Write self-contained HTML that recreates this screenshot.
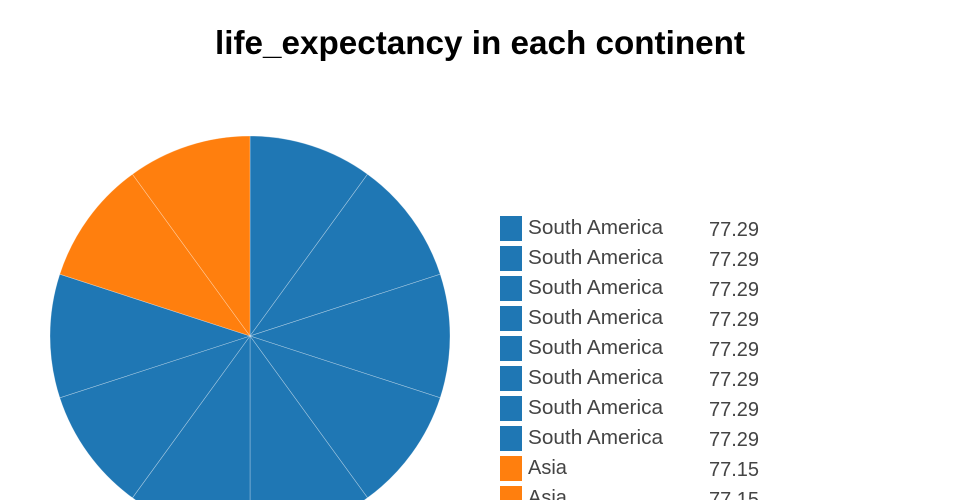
<!DOCTYPE html>
<html><head><meta charset="utf-8"><style>
html,body{margin:0;padding:0;background:#fff;width:960px;height:500px;overflow:hidden;}
svg{display:block;}
</style></head><body>
<svg width="960" height="500" viewBox="0 0 960 500" xmlns="http://www.w3.org/2000/svg" style="overflow:hidden">
<defs><clipPath id="c"><rect width="960" height="500"/></clipPath></defs>
<g clip-path="url(#c)">
<rect width="960" height="500" fill="#fff"/>
<text x="215" y="54" textLength="530" lengthAdjust="spacingAndGlyphs" font-family="Liberation Sans, sans-serif" font-weight="bold" font-size="33" fill="#000">life_expectancy in each continent</text>
<g stroke="#ffffff" stroke-opacity="0.45" stroke-width="0.6">
<path d="M250,336 L250.000,136.000 A200,200 0 0 1 367.557,174.197 Z" fill="#1f77b4"/>
<path d="M250,336 L367.557,174.197 A200,200 0 0 1 440.211,274.197 Z" fill="#1f77b4"/>
<path d="M250,336 L440.211,274.197 A200,200 0 0 1 440.211,397.803 Z" fill="#1f77b4"/>
<path d="M250,336 L440.211,397.803 A200,200 0 0 1 367.557,497.803 Z" fill="#1f77b4"/>
<path d="M250,336 L367.557,497.803 A200,200 0 0 1 250.000,536.000 Z" fill="#1f77b4"/>
<path d="M250,336 L250.000,536.000 A200,200 0 0 1 132.443,497.803 Z" fill="#1f77b4"/>
<path d="M250,336 L132.443,497.803 A200,200 0 0 1 59.789,397.803 Z" fill="#1f77b4"/>
<path d="M250,336 L59.789,397.803 A200,200 0 0 1 59.789,274.197 Z" fill="#1f77b4"/>
<path d="M250,336 L59.789,274.197 A200,200 0 0 1 132.443,174.197 Z" fill="#ff7f0e"/>
<path d="M250,336 L132.443,174.197 A200,200 0 0 1 250.000,136.000 Z" fill="#ff7f0e"/>
</g>
<g font-family="Liberation Sans, sans-serif" font-size="20" fill="#444">
<rect x="500" y="216" width="22" height="25" fill="#1f77b4"/><text x="528" y="234" textLength="135" lengthAdjust="spacingAndGlyphs">South America</text><text x="709" y="236">77.29</text>
<rect x="500" y="246" width="22" height="25" fill="#1f77b4"/><text x="528" y="264" textLength="135" lengthAdjust="spacingAndGlyphs">South America</text><text x="709" y="266">77.29</text>
<rect x="500" y="276" width="22" height="25" fill="#1f77b4"/><text x="528" y="294" textLength="135" lengthAdjust="spacingAndGlyphs">South America</text><text x="709" y="296">77.29</text>
<rect x="500" y="306" width="22" height="25" fill="#1f77b4"/><text x="528" y="324" textLength="135" lengthAdjust="spacingAndGlyphs">South America</text><text x="709" y="326">77.29</text>
<rect x="500" y="336" width="22" height="25" fill="#1f77b4"/><text x="528" y="354" textLength="135" lengthAdjust="spacingAndGlyphs">South America</text><text x="709" y="356">77.29</text>
<rect x="500" y="366" width="22" height="25" fill="#1f77b4"/><text x="528" y="384" textLength="135" lengthAdjust="spacingAndGlyphs">South America</text><text x="709" y="386">77.29</text>
<rect x="500" y="396" width="22" height="25" fill="#1f77b4"/><text x="528" y="414" textLength="135" lengthAdjust="spacingAndGlyphs">South America</text><text x="709" y="416">77.29</text>
<rect x="500" y="426" width="22" height="25" fill="#1f77b4"/><text x="528" y="444" textLength="135" lengthAdjust="spacingAndGlyphs">South America</text><text x="709" y="446">77.29</text>
<rect x="500" y="456" width="22" height="25" fill="#ff7f0e"/><text x="528" y="474">Asia</text><text x="709" y="476">77.15</text>
<rect x="500" y="486" width="22" height="14" fill="#ff7f0e"/><text x="528" y="504">Asia</text><text x="709" y="506">77.15</text>
</g>
</g>
</svg>
</body></html>
